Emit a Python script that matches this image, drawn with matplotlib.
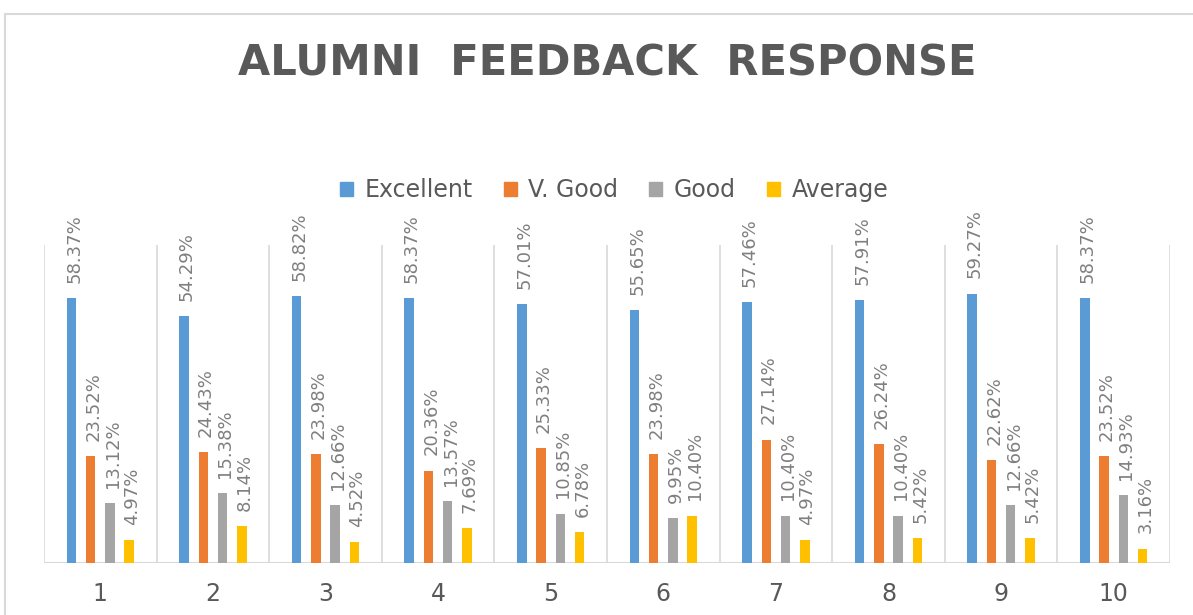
import matplotlib
matplotlib.use('Agg')
import matplotlib.pyplot as plt
from matplotlib.patches import Patch, Rectangle
import numpy as np

# data
categories = ['1', '2', '3', '4', '5', '6', '7', '8', '9', '10']
excellent = [58.37, 54.29, 58.82, 58.37, 57.01, 55.65, 57.46, 57.91, 59.27, 58.37]
v_good = [23.52, 24.43, 23.98, 20.36, 25.33, 23.98, 27.14, 26.24, 22.62, 23.52]
good = [13.12, 15.38, 12.66, 13.57, 10.85, 9.95, 10.40, 10.40, 12.66, 14.93]
average = [4.97, 8.14, 4.52, 7.69, 6.78, 10.40, 4.97, 5.42, 5.42, 3.16]
series_names = ['Excellent', 'V. Good', 'Good', 'Average']

COLORS = ['#5B9BD5', '#ED7D31', '#A5A5A5', '#FFC000']
GRID = '#D9D9D9'; TXT = '#595959'; LBL = '#7F7F7F'

W, H = 1193, 615
fig = plt.figure(figsize=(W/100, H/100), dpi=100)
fig.patch.set_facecolor('white')

# chart area border (cropped at right/bottom in the reference)
fig.add_artist(Rectangle((5/W, -0.1), 1.2, 1 - 14/H + 0.1, transform=fig.transFigure,
                         fill=False, ec=GRID, lw=1.5))

ax = fig.add_axes([44/W, 1 - 563/H, (1170-44)/W, (563-245)/H])
ax.set_xlim(0, len(categories))
ax.set_ylim(0, 70)

x = np.arange(len(categories)) + 0.5
bw = 0.084; stride = 0.171
all_series = [excellent, v_good, good, average]
for i, (vals, c) in enumerate(zip(all_series, COLORS)):
    xs = x + (i - 1.5) * stride
    ax.bar(xs, vals, width=bw, color=c, zorder=3)
    for xi, v in zip(xs, vals):
        ax.annotate(f'{v:.2f}%', xy=(xi, v), xytext=(2, 11), textcoords='offset points',
                    ha='center', va='bottom', rotation=90, fontsize=13, color=LBL)

# category separators
for k in range(len(categories) + 1):
    ax.axvline(k, color=GRID, lw=1.2, zorder=1)
for s in ax.spines.values():
    s.set_visible(False)
ax.axhline(0, color=GRID, lw=1.5, zorder=2)
ax.set_yticks([])
ax.set_xticks(x)
ax.set_xticklabels(categories, fontsize=17, color=TXT)
ax.tick_params(axis='x', length=0, pad=14)

fig.text(607/W, 1 - 63/H, 'ALUMNI  FEEDBACK  RESPONSE', ha='center', va='center',
         fontsize=30, fontweight='bold', color=TXT)

handles = [Patch(color=c) for c in COLORS]
fig.legend(handles, series_names, loc='center', bbox_to_anchor=(614/W, 1 - 190/H), ncol=4,
           frameon=False, fontsize=17, labelcolor=TXT, handlelength=0.55, handleheight=0.55,
           handletextpad=0.5, columnspacing=1.3)

plt.savefig('out.png', dpi=100, facecolor='white')
plt.close()
